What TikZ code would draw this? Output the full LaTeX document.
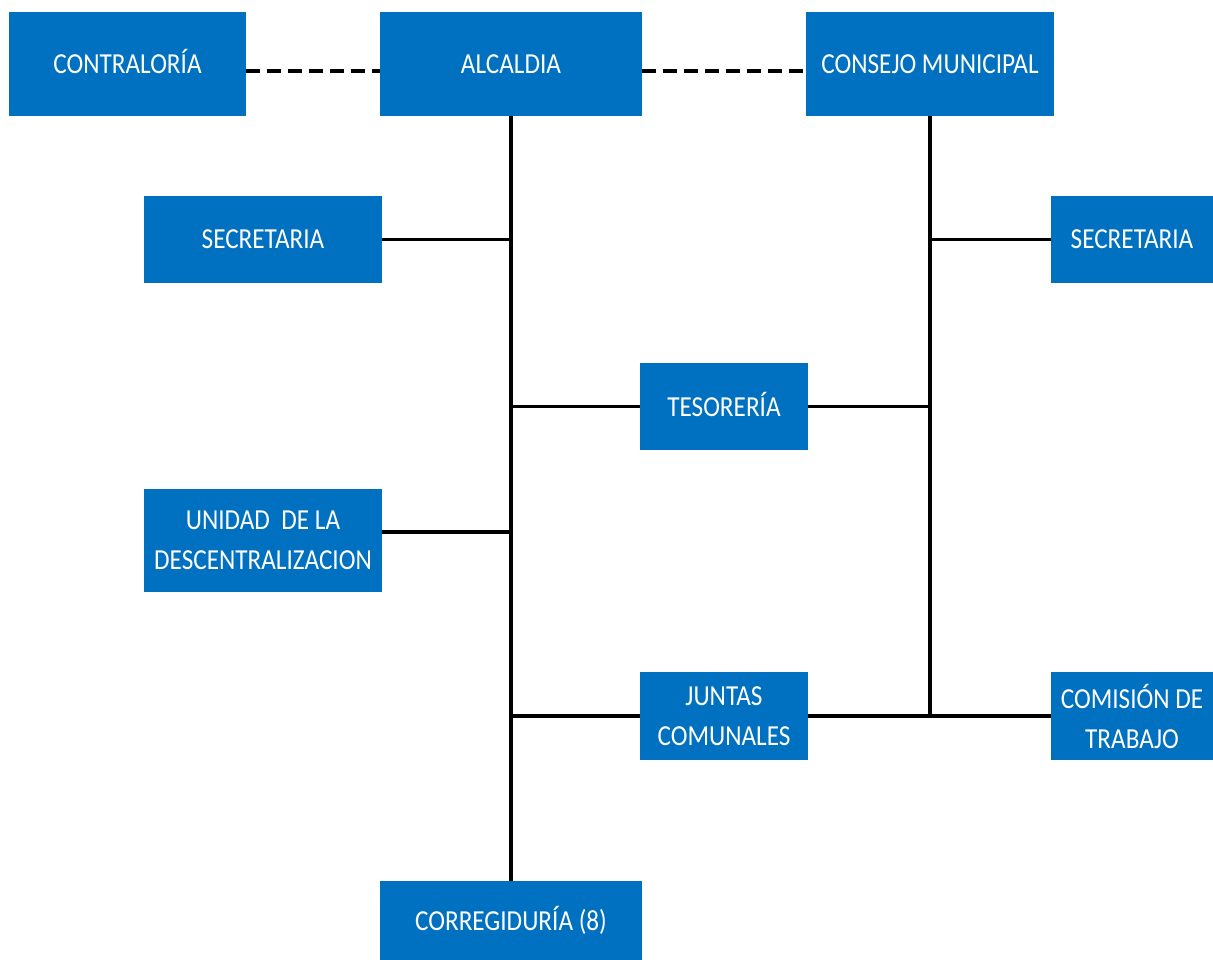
\documentclass[tikz,border=0pt]{standalone}
\usepackage{fontspec}
\newfontfamily\boxfont{Carlito}[FakeStretch=0.87]
\definecolor{orgblue}{HTML}{0070C0}
\usetikzlibrary{positioning}

\begin{document}
\begin{tikzpicture}[x=1pt,y=-1pt,line width=3.7pt,
    org box/.style={fill=orgblue,text=white,inner sep=0pt,outer sep=0pt,align=center,font=\boxfont\fontsize{29}{40}\selectfont},
    one line/.style={text height=19pt,text depth=0pt},
    dash link/.style={dash pattern=on 14pt off 7pt,line width=4pt}]

            \useasboundingbox (0,0) rectangle (1213,960);

            % top row
            \node[org box,one line,minimum width=237pt,minimum height=104pt] (contra) at (127.5,64) {CONTRALORÍA};
            \node[org box,one line,minimum width=262pt,minimum height=104pt] (alc) at (511,64) {ALCALDIA};
            \node[org box,one line,minimum width=248pt,minimum height=104pt] (consejo) at (930,64) {CONSEJO MUNICIPAL};

            % dependencias
            \node[org box,one line,minimum width=238pt,minimum height=87pt] (secL) at (263,239.5) {SECRETARIA};
            \node[org box,one line,minimum width=162pt,minimum height=87pt] (secR) at (1132,239.5) {SECRETARIA};
            \node[org box,one line,minimum width=168pt,minimum height=87pt] (teso) at (724,406.5) {TESORERÍA};
            \node[org box,minimum width=238pt,minimum height=103pt] (unidad) at (263,540.5) {UNIDAD~ DE LA\\DESCENTRALIZACION};
            \node[org box,minimum width=168pt,minimum height=88pt] (juntas) at (724,716) {JUNTAS\\COMUNALES};
            \node[org box,minimum width=162pt,minimum height=88pt] (comision) at (1132,716) {COMISIÓN DE\\TRABAJO};
            \node[org box,one line,minimum width=262pt,minimum height=79pt] (correg) at (511,920.5) {CORREGIDURÍA (8)};

            \coordinate (uni) at (511,532);

            % dashed links
            \draw[dash link] ([yshift=-7pt]contra.east) -- ([yshift=-7pt]alc.west);
            \draw[dash link] ([yshift=-7pt]alc.east) -- ([yshift=-7pt]consejo.west);

            % spines
            \draw (alc.south) -- (correg.north);
            \draw (consejo.south) -- (consejo.south |- juntas.east);

            % branches
            \draw (secL.east) -- (secL.east -| alc.south);
            \draw (uni) -- (uni -| unidad.east);
            \draw (teso.west) -- (teso.west -| alc.south);
            \draw (juntas.west) -- (juntas.west -| alc.south);
            \draw (teso.east) -- (teso.east -| consejo.south);
            \draw (secR.west) -- (secR.west -| consejo.south);
            \draw (juntas.east) -- (comision.west);
        \end{tikzpicture}
\end{document}
